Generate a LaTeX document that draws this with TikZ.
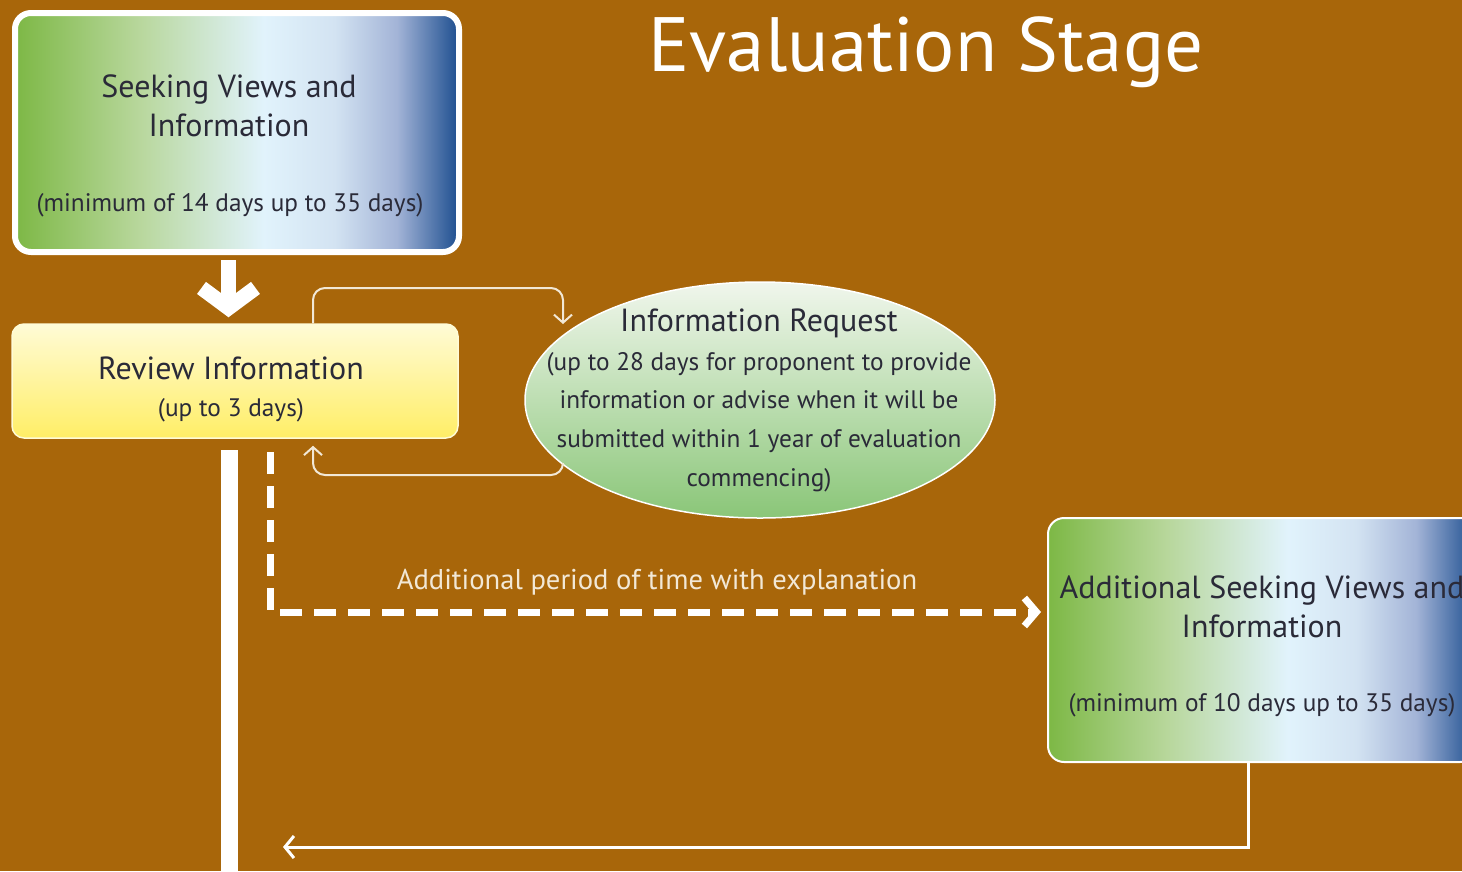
\documentclass[tikz,border=0pt]{standalone}
\usepackage{fontspec}
\setmainfont{PT Sans}
\usetikzlibrary{arrows.meta}
\usetikzlibrary{shapes.geometric}
\definecolor{bgbrown}{HTML}{A8660A}
\definecolor{inktext}{HTML}{2A2A38}
\definecolor{cream}{HTML}{F2E8D6}
\definecolor{sgreen}{HTML}{7DB845}
\definecolor{spale}{HTML}{B8D79C}
\definecolor{slight}{HTML}{E1F3FC}
\definecolor{sice}{HTML}{D3E3F2}
\definecolor{sdusk}{HTML}{A3B4D7}
\definecolor{sblue}{HTML}{1D4E8F}
\definecolor{ytop}{HTML}{FFFBD6}
\definecolor{ybot}{HTML}{FFEE66}
\definecolor{gtop}{HTML}{F0F6EC}
\definecolor{gbot}{HTML}{8AC678}
\pgfdeclarehorizontalshading{seekshade}{100bp}{color(0bp)=(sgreen); color(25bp)=(sgreen); color(39bp)=(spale); color(53bp)=(slight); color(61bp)=(sice); color(68bp)=(sdusk); color(75bp)=(sblue); color(100bp)=(sblue)}
\begin{document}
\begin{tikzpicture}[x=1pt,y=-1pt,
  seekbox/.style={draw=white,rounded corners=16pt,shading=seekshade},
  reviewbox/.style={draw=ytop,line width=1.5pt,rounded corners=12pt,top color=ytop,bottom color=ybot,minimum width=446pt,minimum height=114pt},
  irbox/.style={ellipse,draw=white,line width=1.5pt,top color=gtop,bottom color=gbot,minimum width=470pt,minimum height=236pt,inner sep=0pt},
  headtext/.style={text=inktext,align=center,inner sep=0pt,font=\fontsize{32}{39}\selectfont},
  subtext/.style={text=inktext,align=center,inner sep=0pt,font=\fontsize{25.3}{38.7}\selectfont},
  notetext/.style={text=cream,inner sep=0pt,font=\fontsize{28.6}{32}\selectfont},
  titletext/.style={text=white,inner sep=0pt,font=\fontsize{77}{90}\selectfont},
  bigarrow/.style={draw=white,line width=15pt,-{Straight Barb[length=20pt,width=54pt]}},
  loopline/.style={draw=cream,line width=2pt,rounded corners=12pt,-{Straight Barb[length=8pt,width=18pt]}},
  dashline/.style={draw=white,line width=7pt,dash pattern=on 22pt off 12pt,-{Straight Barb[length=12pt,width=28pt]}},
  bar/.style={draw=white,line width=17pt},
  retline/.style={draw=white,line width=3pt,-{Straight Barb[length=9pt,width=22pt]}}]
\useasboundingbox[fill=bgbrown] (0,0) rectangle (1462,871);
\clip (0,0) rectangle (1462,871);

\node[titletext] (title) at (926,52) {Evaluation Stage};

\node[seekbox,line width=6pt,minimum width=444pt,minimum height=239pt] (seek) at (237,132.5) {};
\node[headtext] (seekhead) at (229,106) {Seeking Views and\\Information};
\node[subtext] (seeksub) at (230,205) {(minimum of 14 days up to 35 days)};

\node[reviewbox] (review) at (235,381) {};
\node[headtext] (reviewhead) at (231,368) {Review Information};
\node[subtext] (reviewsub) at (231,410) {(up to 3 days)};

\node[irbox] (ir) at (760,400) {};
\node[headtext] (irhead) at (759,323) {Information Request};
\node[subtext] (irsub) at (759,422) {(up to 28 days for proponent to provide\\information or advise when it will be\\submitted within 1 year of evaluation\\commencing)};

\node[seekbox,line width=2pt,minimum width=428pt,minimum height=244pt] (addl) at (1262,640) {};
\node[headtext] (addlhead) at (1262,606.5) {Additional Seeking Views and\\Information};
\node[subtext] (addlsub) at (1262,705) {(minimum of 10 days up to 35 days)};

\coordinate (arrowx) at (228.5,0);
\draw[bigarrow,shorten <=5pt] (seek.south -| arrowx) -- ([yshift=6pt]review.north -| arrowx);

\coordinate (loopL) at (313,288);
\coordinate (loopR) at (563,288);
\coordinate (irin) at (563,324);
\draw[loopline] (loopL |- review.north) -- (loopL) -- (loopR) -- (irin);
\coordinate (irout) at (563,463);
\coordinate (backR) at (563,475);
\coordinate (backL) at (313,475);
\draw[loopline] (irout) -- (backR) -- (backL) -- ([yshift=-7pt]backL |- review.south);

\coordinate (bartop) at (229.5,450);
\coordinate (barend) at (229.5,880);
\draw[bar] (bartop) -- (barend);

\coordinate (dashtop) at (270,452);
\coordinate (dashturn) at (270,612);
\draw[dashline] (dashtop) -- (dashturn) -- ([xshift=-6pt]addl.west |- dashturn);
\node[notetext] (dashnote) at (657,582) {Additional period of time with explanation};

\coordinate (retR) at (1248,847);
\coordinate (retL) at (283,847);
\draw[retline] (addl.south -| retR) -- (retR) -- (retL);
\end{tikzpicture}
\end{document}
